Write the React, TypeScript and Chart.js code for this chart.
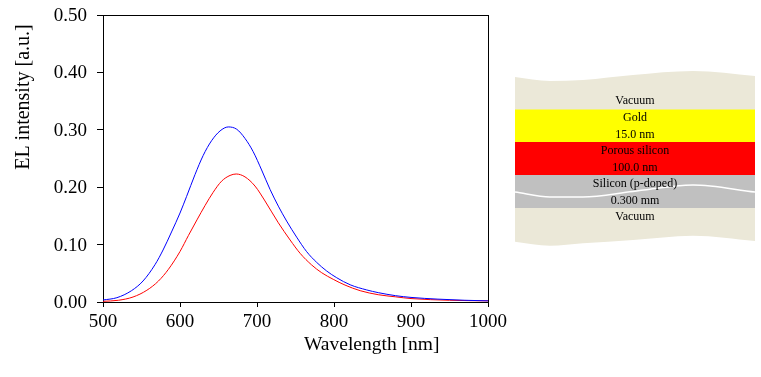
import React, { useEffect, useRef } from "react";
import { Chart, registerables } from "chart.js";

Chart.register(...registerables);

const FONT = "'Liberation Serif', 'Times New Roman', serif";

const blueWavelength = [500, 518, 537, 552, 567.5, 578, 589, 600, 608.6, 619.5, 630, 641, 652, 662.7, 673.6, 684.4, 695, 706, 717, 727.7, 738.5, 751.5, 764.5, 777.5, 790.5, 803.5, 821, 842.5, 857.5, 880, 900, 935, 970, 1000];
const blueIntensity = [0.0035, 0.0075, 0.0197, 0.0366, 0.065, 0.0906, 0.122, 0.155, 0.184, 0.222, 0.255, 0.281, 0.298, 0.305, 0.301, 0.285, 0.262, 0.23, 0.196, 0.167, 0.141, 0.113, 0.0877, 0.069, 0.054, 0.0423, 0.03, 0.021, 0.0163, 0.011, 0.008, 0.005, 0.003, 0.002];
const redWavelength = [500, 520, 539, 557, 572, 585, 600, 611, 622, 632.5, 643, 654, 665, 673, 684.4, 697.4, 710.4, 727.7, 743, 756, 771, 784, 799, 814.3, 834, 857.5, 880, 900, 950, 1000];
const redIntensity = [0.0012, 0.003, 0.0087, 0.0205, 0.0365, 0.057, 0.088, 0.116, 0.143, 0.168, 0.191, 0.2105, 0.2205, 0.223, 0.218, 0.202, 0.176, 0.138, 0.108, 0.0848, 0.0645, 0.051, 0.0395, 0.0295, 0.0197, 0.0127, 0.009, 0.006, 0.003, 0.002];

const xAxisTitle = "Wavelength [nm]";
const yAxisTitle = "EL intensity [a.u.]";

const waveOffsets = [0, 35, 68, 118, 178, 240];
const waveTop = [77, 81, 80, 75, 71, 76];
const waveBottom = [241.7, 245.7, 243.3, 240, 235.7, 241];
const waveCrack = [192, 197, 197, 191.5, 185, 192];

const layerNames = ["Gold", "Porous silicon", "Silicon (p-doped)"];
const layerColors = ["#ffff00", "#ff0000", "#c0c0c0"];
const layerEdges = [109.5, 142, 175, 208];
const stackLabels = ["Vacuum", "Gold", "15.0 nm", "Porous silicon", "100.0 nm", "Silicon (p-doped)", "0.300 mm", "Vacuum"];
const stackLabelRows = [101, 117.5, 134.5, 151, 168, 184, 201, 217];

const curve = (xs: number[], ys: number[]) => xs.map((x, i) => ({ x, y: ys[i] }));

export default function App() {
  const plotRef = useRef<HTMLCanvasElement>(null);
  const stackRef = useRef<HTMLCanvasElement>(null);

  useEffect(() => {
    const hiddenLinear = (min: number, max: number, position: string, fit: (s: any) => void) => ({
      type: "linear", position, min, max,
      border: { display: true, color: "#000", width: 1 },
      grid: { display: true, drawOnChartArea: false, drawTicks: false, tickLength: 0 },
      ticks: { display: false },
      afterFit: fit,
    });

    const titlePlugin = {
      id: "axisTitles",
      afterDraw(c: any) {
        const ctx = c.ctx;
        ctx.save();
        ctx.fillStyle = "#000";
        ctx.textAlign = "center";
        ctx.textBaseline = "middle";
        ctx.font = `19.5px ${FONT}`;
        ctx.fillText(xAxisTitle, c.scales.x.getPixelForValue(849), 345);
        ctx.font = `20px ${FONT}`;
        ctx.translate(24, c.scales.y.getPixelForValue(0.357));
        ctx.rotate(-Math.PI / 2);
        ctx.fillText(yAxisTitle, 0, 0);
        ctx.restore();
      },
    };

    const plot = new Chart(plotRef.current!, {
      type: "line",
      data: {
        datasets: [
          { label: "Blue", data: curve(blueWavelength, blueIntensity), borderColor: "#0000ff", borderWidth: 1, pointRadius: 0, cubicInterpolationMode: "monotone" },
          { label: "Red", data: curve(redWavelength, redIntensity), borderColor: "#ff0000", borderWidth: 1, pointRadius: 0, cubicInterpolationMode: "monotone" },
        ],
      },
      options: {
        animation: false, responsive: false,
        layout: { padding: 0 },
        plugins: { legend: { display: false }, tooltip: { enabled: false } },
        scales: {
          x: {
            type: "linear", position: "bottom", min: 500, max: 1000,
            border: { display: true, color: "#000", width: 1 },
            grid: { display: true, drawOnChartArea: false, drawTicks: true, tickLength: 5, color: "#000" },
            ticks: { stepSize: 100, color: "#000", font: { family: FONT, size: 19 }, maxRotation: 0, autoSkip: false, padding: 4, callback: (v: any) => String(v) },
            afterFit: (s: any) => { s.height = 75; s.paddingLeft = 0; s.paddingRight = 0; },
          },
          y: {
            type: "linear", position: "left", min: 0, max: 0.5,
            border: { display: true, color: "#000", width: 1 },
            grid: { display: true, drawOnChartArea: false, drawTicks: true, tickLength: 6, color: "#000" },
            ticks: { stepSize: 0.1, color: "#000", font: { family: FONT, size: 19 }, padding: 10, labelOffset: 1, callback: (v: any) => Number(v).toFixed(2) },
            afterFit: (s: any) => { s.width = 103; s.paddingTop = 0; s.paddingBottom = 0; },
          },
          xTop: hiddenLinear(500, 1000, "top", (s) => { s.height = 15; }),
          yRight: hiddenLinear(0, 0.5, "right", (s) => { s.width = 273; }),
        } as any,
      },
      plugins: [titlePlugin],
    } as any);

    const band = (y: number) => waveOffsets.map((x) => ({ x, y }));
    const bandSets: any[] = [];
    layerNames.forEach((name, i) => {
      const base = bandSets.length + 2;
      bandSets.push({ label: name + " top", data: band(layerEdges[i]), borderWidth: 0, pointRadius: 0, order: 1, fill: { target: base + 1 }, backgroundColor: layerColors[i] });
      bandSets.push({ label: name + " bottom", data: band(layerEdges[i + 1]), borderWidth: 0, pointRadius: 0, order: 1, fill: false });
    });

    const labelPlugin = {
      id: "stackLabels",
      afterDatasetsDraw(c: any) {
        const ctx = c.ctx;
        ctx.save();
        ctx.fillStyle = "#000";
        ctx.font = `12px ${FONT}`;
        ctx.textAlign = "center";
        ctx.textBaseline = "middle";
        stackLabels.forEach((t, i) => {
          ctx.fillText(t, c.scales.x.getPixelForValue(120), c.scales.y.getPixelForValue(stackLabelRows[i]));
        });
        ctx.restore();
      },
    };

    const stack = new Chart(stackRef.current!, {
      type: "line",
      data: {
        datasets: [
          { label: "Vacuum top", data: curve(waveOffsets, waveTop), borderWidth: 0, pointRadius: 0, order: 2, cubicInterpolationMode: "monotone", fill: { target: 1 }, backgroundColor: "#ebe8d8" },
          { label: "Vacuum bottom", data: curve(waveOffsets, waveBottom), borderWidth: 0, pointRadius: 0, order: 2, cubicInterpolationMode: "monotone", fill: false },
          ...bandSets,
          { label: "Crack", data: curve(waveOffsets, waveCrack), borderColor: "#ffffff", borderWidth: 1.5, pointRadius: 0, order: 0, cubicInterpolationMode: "monotone", fill: false },
        ],
      },
      options: {
        animation: false, responsive: false,
        layout: { padding: 0 },
        plugins: { legend: { display: false }, tooltip: { enabled: false } },
        scales: {
          x: { type: "linear", min: 0, max: 240, display: false },
          y: { type: "linear", min: 60, max: 260, reverse: true, display: false },
        },
      },
      plugins: [labelPlugin],
    } as any);

    return () => { plot.destroy(); stack.destroy(); };
  }, []);

  return (
    <div style={{ position: "fixed", left: 0, top: 0, width: 761, height: 377, background: "#fff", overflow: "hidden" }}>
      <canvas ref={plotRef} width={761} height={377} style={{ position: "absolute", left: 0, top: 0, display: "block" }} />
      <canvas ref={stackRef} width={240} height={200} style={{ position: "absolute", left: 515, top: 60, display: "block" }} />
    </div>
  );
}
